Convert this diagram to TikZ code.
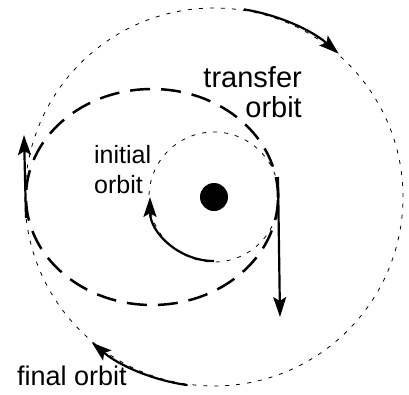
\documentclass[tikz,border=0pt]{standalone}
\usepackage{fontspec}
\setmainfont{Liberation Sans}
\usetikzlibrary{arrows.meta}

\begin{document}
\begin{tikzpicture}[
    x=1pt, y=1pt,
    orbit/.style={black, line width=0.8pt, dash pattern=on 4pt off 7pt}, % thin dotted orbits
    transfer/.style={black, line width=2.5pt, dash pattern=on 20pt off 11pt}, % dashed transfer ellipse
    burn/.style={black, line width=2.2pt, -{Stealth[length=20pt,width=13pt,inset=4pt]}}, % motion arrows
    lbl/.style={inner sep=0pt, font=\fontsize{27}{30}\selectfont} % labels
]
\useasboundingbox (-214,-197) rectangle (195,197);

% centres
\coordinate (O) at (0,0);
\coordinate (C) at (-62,0);

% the three orbits
\draw[orbit] (O) circle[radius=189];
\draw[orbit] (O) circle[radius=65];
\draw[transfer] (C) ellipse[x radius=126, y radius=108];

% central body
\node[fill=black, circle, minimum size=28pt, inner sep=0pt] (planet) at (O) {};

% arrow end points
\coordinate (i1) at (-90:64);
\coordinate (r1) at (64,20);
\coordinate (r2) at (66,-120);
\coordinate (l1) at (-188,-21);
\coordinate (l2) at (-190,62);
\coordinate (t1) at (81:190);
\coordinate (b1) at (-98:190);

\draw[burn] (i1) arc[start angle=-90, end angle=-180, radius=64];
\draw[burn] (r1) -- (r2);
\draw[burn] (l1) -- (l2);
\draw[burn] (t1) arc[start angle=81, end angle=49, radius=190];
\draw[burn] (b1) arc[start angle=-98, end angle=-130, radius=190];

% labels (base = last line)
\node[lbl, align=right, anchor=base east, font=\fontsize{29}{30}\selectfont] (tlab) at (88,80) {transfer\\orbit};
\node[lbl, align=left, anchor=base west, font=\fontsize{25}{30}\selectfont] (ilab) at (-120,4) {initial\\orbit};
\node[lbl, anchor=base west] (flab) at (-197,-188) {final orbit};

\end{tikzpicture}
\end{document}
